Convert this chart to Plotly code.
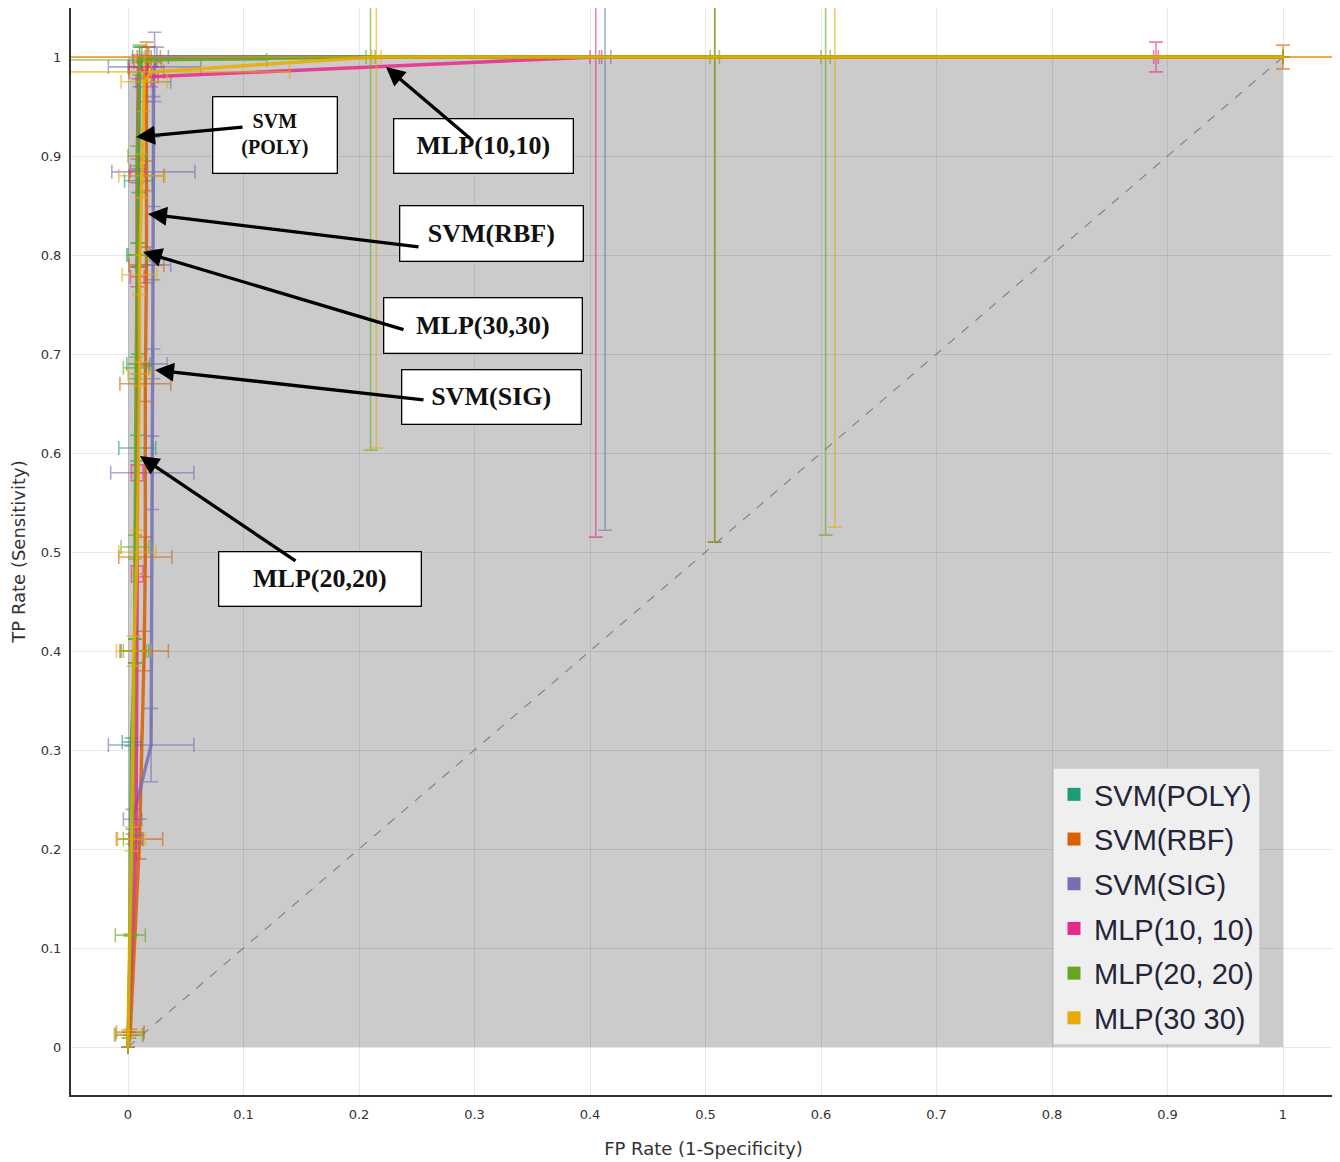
import plotly.graph_objects as go

# ---------------- data ----------------
series_names = ["SVM(POLY)", "SVM(RBF)", "SVM(SIG)", "MLP(10, 10)", "MLP(20, 20)", "MLP(30 30)"]
series_colors = ["#1b9e77", "#d95f02", "#7570b3", "#e7298a", "#66a61e", "#e6ab02"]

poly_fp = [0.000, 0.001, 0.003, 0.006, 0.008, 0.009, 0.009, 0.009, 0.010, 0.012, 1.000]
poly_tp = [0.000, 0.012, 0.308, 0.400, 0.605, 0.690, 0.800, 0.875, 0.990, 1.000, 1.000]
poly_fp_err = [0, 0.012, 0.008, 0.012, 0.016, 0.010, 0.010, 0.012, 0.010, 0.008, 0]
poly_tp_err = [0, 0.003, 0.004, 0.012, 0.013, 0.010, 0.012, 0.012, 0.020, 0.010, 0]

rbf_fp = [0.000, 0.002, 0.010, 0.014, 0.015, 0.015, 0.016, 0.016, 0.016, 0.017, 0.018, 0.508, 1.000]
rbf_tp = [0.000, 0.015, 0.210, 0.400, 0.495, 0.670, 0.790, 0.880, 0.985, 0.995, 1.000, 1.000, 1.000]
rbf_fp_err = [0, 0.012, 0.020, 0.021, 0.023, 0.022, 0.015, 0.015, 0.015, 0.012, 0.010, 0.600, 0]
rbf_tp_err = [0, 0.003, 0.020, 0.020, 0.020, 0.018, 0.018, 0.015, 0.030, 0.015, 0.010, 0.490, 0.012]

sig_fp = [0.000, 0.004, 0.020, 0.021, 0.022, 0.022, 0.022, 0.022, 0.023, 0.025, 0.413, 1.000]
sig_tp = [0.000, 0.230, 0.305, 0.580, 0.690, 0.790, 0.884, 0.975, 0.990, 1.000, 1.000, 1.000]
sig_fp_err = [0, 0.008, 0.037, 0.036, 0.012, 0.015, 0.036, 0.015, 0.040, 0.010, 0.005, 0]
sig_tp_err = [0, 0.010, 0.037, 0.037, 0.015, 0.015, 0.035, 0.015, 0.035, 0.010, 0.478, 0]

mlp10_fp = [0.000, 0.007, 0.008, 0.008, 0.008, 0.008, 0.009, 0.020, 0.405, 0.890, 1.000]
mlp10_tp = [0.000, 0.210, 0.478, 0.580, 0.778, 0.885, 0.990, 0.980, 1.000, 1.000, 1.000]
mlp10_fp_err = [0, 0.006, 0.005, 0.005, 0.006, 0.006, 0.008, 0.006, 0.005, 0.002, 0]
mlp10_tp_err = [0, 0.004, 0.008, 0.008, 0.010, 0.012, 0.012, 0.010, 0.485, 0.015, 0]

mlp20_fp = [0.000, 0.002, 0.004, 0.006, 0.006, 0.007, 0.008, 0.008, 0.010, 0.210, 0.508, 0.604, 1.000]
mlp20_tp = [0.000, 0.113, 0.210, 0.400, 0.505, 0.686, 0.800, 0.900, 0.997, 1.000, 1.000, 1.000, 1.000]
mlp20_fp_err = [0, 0.013, 0.008, 0.010, 0.012, 0.011, 0.008, 0.008, 0.110, 0.004, 0.004, 0.004, 0]
mlp20_tp_err = [0, 0.001, 0.005, 0.012, 0.012, 0.011, 0.012, 0.010, 0.015, 0.397, 0.490, 0.483, 0]

mlp30_fp = [0.000, 0.000, 0.003, 0.005, 0.008, 0.010, 0.010, 0.012, 0.014, 0.020, 0.215, 0.612, 1.000]
mlp30_tp = [0.000, 0.013, 0.210, 0.400, 0.500, 0.680, 0.780, 0.880, 0.975, 0.985, 1.000, 1.000, 1.000]
mlp30_fp_err = [0, 0.012, 0.012, 0.015, 0.016, 0.010, 0.015, 0.020, 0.020, 0.120, 0.004, 0.700, 0]
mlp30_tp_err = [0, 0.004, 0.012, 0.015, 0.022, 0.012, 0.020, 0.022, 0.030, 0.010, 0.395, 0.475, 0]

diag_x = [0, 1]
diag_y = [0, 1]

tick_vals = [0, 0.1, 0.2, 0.3, 0.4, 0.5, 0.6, 0.7, 0.8, 0.9, 1]
tick_text = ["0", "0.1", "0.2", "0.3", "0.4", "0.5", "0.6", "0.7", "0.8", "0.9", "1"]

# annotation labels: (text, box centre px, box size px, font size)
label_boxes = [
    ("<b>SVM</b><br><b>(POLY)</b>", (275, 135), (126, 78), 20),
    ("<b>MLP(10,10)</b>", (483.5, 146), (181, 56), 26),
    ("<b>SVM(RBF)</b>", (491.5, 233.5), (185, 57), 26),
    ("<b>MLP(30,30)</b>", (483, 325.5), (200, 57), 26),
    ("<b>SVM(SIG)</b>", (491.5, 397), (181, 56), 26),
    ("<b>MLP(20,20)</b>", (320, 579), (204, 56), 26),
]
# arrows: (tail px, head px)
arrow_list = [
    ((244, 127), (136, 137)),
    ((472, 140), (386, 67)),
    ((420, 247), (148, 214)),
    ((405, 330), (143, 252)),
    ((425, 400), (155, 370)),
    ((297, 562), (140, 456)),
]

series = [
    (poly_fp, poly_tp, poly_fp_err, poly_tp_err),
    (rbf_fp, rbf_tp, rbf_fp_err, rbf_tp_err),
    (sig_fp, sig_tp, sig_fp_err, sig_tp_err),
    (mlp10_fp, mlp10_tp, mlp10_fp_err, mlp10_tp_err),
    (mlp20_fp, mlp20_tp, mlp20_fp_err, mlp20_tp_err),
    (mlp30_fp, mlp30_tp, mlp30_fp_err, mlp30_tp_err),
]

# ---------------- geometry helpers (layout only) ----------------
BODY = 8  # default page margin of the html body
W, H = 1340 - BODY, 1162 - BODY
X0_PX, X1_PX = 128, 1283
Y0_PX, Y1_PX = 1047, 57
PL, PR, PT, PB = 71, 1336, 8, 1095  # plot area in page pixels


def px2x(px):
    return (px - X0_PX) / (X1_PX - X0_PX)


def px2y(py):
    return (Y0_PX - py) / (Y0_PX - Y1_PX)


def rgba(hexc, a):
    hexc = hexc.lstrip("#")
    r, g, b = int(hexc[0:2], 16), int(hexc[2:4], 16), int(hexc[4:6], 16)
    return f"rgba({r},{g},{b},{a})"


fig = go.Figure()

fig.add_trace(go.Scatter(
    x=diag_x, y=diag_y, mode="lines",
    line=dict(color="rgba(120,120,120,0.85)", width=1.2, dash="dash"),
    showlegend=False, hoverinfo="skip"))

for name, col, (fp, tp, fpe, tpe) in zip(series_names, series_colors, series):
    fig.add_trace(go.Scatter(
        x=fp, y=tp, mode="lines", name=name,
        line=dict(color=rgba(col, 0.85), width=3.4),
        error_x=dict(type="data", array=fpe, visible=True, color=rgba(col, 0.6), thickness=1.6, width=7),
        error_y=dict(type="data", array=tpe, visible=True, color=rgba(col, 0.6), thickness=1.6, width=7),
        showlegend=False))

for i, (name, col) in enumerate(zip(series_names, series_colors)):
    fig.add_trace(go.Scatter(
        x=[None], y=[None], mode="markers", name=name,
        legendgroup=f"g{i}",
        marker=dict(symbol="square", size=13, color=col),
        showlegend=True))

annotations = []
for text, (cx, cy), (bw, bh), fs in label_boxes:
    annotations.append(dict(
        x=px2x(cx), y=px2y(cy), xref="x", yref="y", text=text, showarrow=False,
        font=dict(family="Liberation Serif", size=fs, color="#111111"),
        bgcolor="white", bordercolor="black", borderwidth=1.3, borderpad=0,
        width=bw - 3, height=bh - 3, align="center", valign="middle",
        xanchor="center", yanchor="middle"))
for (tx, ty), (hx, hy) in arrow_list:
    annotations.append(dict(
        x=px2x(hx), y=px2y(hy), xref="x", yref="y",
        ax=px2x(tx), ay=px2y(ty), axref="x", ayref="y",
        text="", showarrow=True, arrowhead=2, arrowsize=1.15, arrowwidth=3.3,
        arrowcolor="black", standoff=0, startstandoff=0))

x_range = [px2x(PL), px2x(PR)]
y_range = [px2y(PB), px2y(PT)]

fig.update_layout(
    width=W, height=H,
    margin=dict(l=PL - BODY, r=W - (PR - BODY), t=PT - BODY, b=H - (PB - BODY), autoexpand=False),
    paper_bgcolor="white", plot_bgcolor="white",
    shapes=[dict(type="rect", xref="x", yref="y", x0=0, y0=0, x1=1, y1=1,
                 fillcolor="#cbcbcb", line=dict(width=0), layer="below")],
    annotations=annotations,
    legend=dict(x=(1053 - PL) / (PR - PL), y=(PB - 768) / (PB - PT),
                xanchor="left", yanchor="top",
                bgcolor="#efefef", bordercolor="#d4d4d4", borderwidth=1,
                font=dict(family="Liberation Sans", size=29, color="#25253a"),
                tracegroupgap=4, traceorder="grouped", itemwidth=30,
                entrywidth=185, entrywidthmode="pixels"),
    font=dict(family="DejaVu Sans", color="#333333"),
    xaxis=dict(range=x_range, tickvals=tick_vals, ticktext=tick_text,
               showgrid=True, gridcolor="rgba(0,0,0,0.09)", gridwidth=1,
               zeroline=False, showline=True, linecolor="#333333", linewidth=2,
               ticks="", tickfont=dict(size=13, color="#333333"), ticklabelstandoff=6,
               title=dict(text="FP Rate (1-Specificity)", font=dict(size=18, color="#333333"), standoff=22)),
    yaxis=dict(range=y_range, tickvals=tick_vals, ticktext=tick_text,
               showgrid=True, gridcolor="rgba(0,0,0,0.09)", gridwidth=1,
               zeroline=False, showline=True, linecolor="#333333", linewidth=2,
               ticks="", tickfont=dict(size=13, color="#333333"), ticklabelstandoff=5,
               title=dict(text="TP Rate (Sensitivity)", font=dict(size=18, color="#333333"), standoff=13)),
)

fig.write_html("out.html")
